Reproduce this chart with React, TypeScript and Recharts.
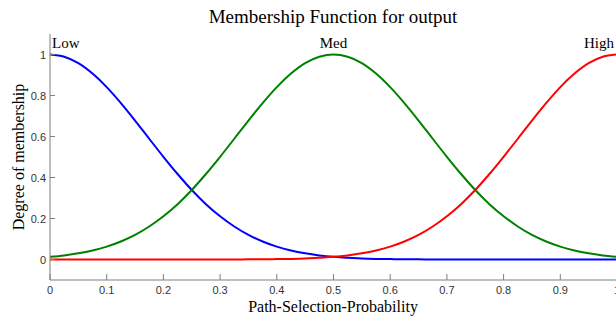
import React from "react";
import {
  LineChart,
  Line,
  XAxis,
  YAxis,
  ReferenceDot,
} from "recharts";

// sample positions along Path-Selection-Probability
const xs = [
  0, 0.025, 0.05, 0.075, 0.1, 0.125, 0.15, 0.175, 0.2, 0.225, 0.25, 0.275, 0.3, 0.325,
  0.35, 0.375, 0.4, 0.425, 0.45, 0.475, 0.5, 0.525, 0.55, 0.575, 0.6, 0.625, 0.65,
  0.675, 0.7, 0.725, 0.75, 0.775, 0.8, 0.825, 0.85, 0.875, 0.9, 0.925, 0.95, 0.975, 1,
];

const lowValues = [
  1, 0.989, 0.958, 0.907, 0.841, 0.763, 0.678, 0.589, 0.501, 0.417, 0.339, 0.27, 0.211,
  0.161, 0.12, 0.088, 0.063, 0.044, 0.03, 0.02, 0.013, 0.009, 0.005, 0.003, 0.002, 0.001,
  0.001, 0, 0, 0, 0, 0, 0, 0, 0, 0, 0, 0, 0, 0, 0,
];

const medValues = [
  0.013, 0.02, 0.03, 0.044, 0.063, 0.088, 0.12, 0.161, 0.211, 0.27, 0.339, 0.417, 0.501,
  0.589, 0.678, 0.763, 0.841, 0.907, 0.958, 0.989, 1, 0.989, 0.958, 0.907, 0.841, 0.763,
  0.678, 0.589, 0.501, 0.417, 0.339, 0.27, 0.211, 0.161, 0.12, 0.088, 0.063, 0.044, 0.03,
  0.02, 0.013,
];

const highValues = [
  0, 0, 0, 0, 0, 0, 0, 0, 0, 0, 0, 0, 0, 0, 0.001, 0.001, 0.002, 0.003, 0.005, 0.009,
  0.013, 0.02, 0.03, 0.044, 0.063, 0.088, 0.12, 0.161, 0.211, 0.27, 0.339, 0.417, 0.501,
  0.589, 0.678, 0.763, 0.841, 0.907, 0.958, 0.989, 1,
];

const xTicks = [0, 0.1, 0.2, 0.3, 0.4, 0.5, 0.6, 0.7, 0.8, 0.9, 1];
const yTicks = [0, 0.2, 0.4, 0.6, 0.8, 1];

const mfNames = ["Low", "Med", "High"];
const mfCenters = [0, 0.5, 1];
const mfAnchors = ["start", "middle", "end"];

const data = xs.map((x, i) => ({
  x,
  low: lowValues[i],
  med: medValues[i],
  high: highValues[i],
}));

const FRAME = "#7f7f7f";
const TICK_FONT = "'Liberation Sans', Arial, sans-serif";
const SERIF = "'Liberation Serif', 'Times New Roman', serif";

function BottomTick({ x, y, payload }: any) {
  return (
    <g>
      <line x1={x} x2={x} y1={y} y2={y - 6} stroke={FRAME} />
      <text x={x} y={y + 14} textAnchor="middle" fontFamily={TICK_FONT} fontSize={11} fill="#333">
        {String(payload.value)}
      </text>
    </g>
  );
}

function TopTick({ x, y }: any) {
  return <line x1={x} x2={x} y1={y} y2={y + 5} stroke={FRAME} />;
}

function LeftTick({ x, y, payload }: any) {
  return (
    <g>
      <line x1={x} x2={x + 5} y1={y} y2={y} stroke={FRAME} />
      <text x={x - 4} y={y + 4} textAnchor="end" fontFamily={TICK_FONT} fontSize={11} fill="#333">
        {String(payload.value)}
      </text>
    </g>
  );
}

function RightTick({ x, y }: any) {
  return <line x1={x} x2={x - 5} y1={y} y2={y} stroke={FRAME} />;
}

export default function App() {
  return (
    <div
      style={{
        position: "absolute",
        left: 0,
        top: 0,
        width: 616,
        height: 319,
        overflow: "hidden",
        background: "#fff",
      }}
    >
      <LineChart width={650} height={319} data={data} margin={{ top: 34, right: 33, left: 0, bottom: 0 }}>
        <XAxis
          dataKey="x"
          type="number"
          domain={[0, 1]}
          ticks={xTicks}
          height={39}
          tickSize={0}
          tickMargin={0}
          tickLine={false}
          axisLine={{ stroke: FRAME }}
          tick={<BottomTick />}
          interval={0}
        />
        <XAxis
          xAxisId="top"
          orientation="top"
          dataKey="x"
          type="number"
          domain={[0, 1]}
          ticks={xTicks}
          height={0}
          tickSize={0}
          tickMargin={0}
          tickLine={false}
          axisLine={{ stroke: FRAME }}
          tick={<TopTick />}
          interval={0}
        />
        <YAxis
          type="number"
          domain={[-0.1, 1.1]}
          ticks={yTicks}
          width={50}
          tickSize={0}
          tickMargin={0}
          tickLine={false}
          axisLine={{ stroke: FRAME }}
          tick={<LeftTick />}
          interval={0}
        />
        <YAxis
          yAxisId="right"
          orientation="right"
          type="number"
          domain={[-0.1, 1.1]}
          ticks={yTicks}
          width={0}
          tickSize={0}
          tickMargin={0}
          tickLine={false}
          axisLine={{ stroke: FRAME }}
          tick={<RightTick />}
          interval={0}
        />
        <Line dataKey="low" type="monotone" stroke="#0000ff" strokeWidth={2} dot={false} isAnimationActive={false} />
        <Line dataKey="med" type="monotone" stroke="#008000" strokeWidth={2} dot={false} isAnimationActive={false} />
        <Line dataKey="high" type="monotone" stroke="#ff0000" strokeWidth={2} dot={false} isAnimationActive={false} />
        {mfNames.map((name, i) => (
          <ReferenceDot
            key={name}
            x={mfCenters[i]}
            y={1}
            r={0}
            fill="none"
            stroke="none"
            label={(p: any) => (
              <text
                x={p.viewBox.x + (i === 0 ? 2 : i === 2 ? -3 : 0)}
                y={p.viewBox.y - 7}
                textAnchor={mfAnchors[i]}
                fontFamily={SERIF}
                fontSize={15}
                fill="#000"
              >
                {name}
              </text>
            )}
          />
        ))}
        <text x={333} y={23} textAnchor="middle" fontFamily={SERIF} fontSize={19} fill="#000">
          Membership Function for output
        </text>
        <text x={333} y={312} textAnchor="middle" fontFamily={SERIF} fontSize={16} fill="#000">
          Path-Selection-Probability
        </text>
        <text
          x={24}
          y={157}
          textAnchor="middle"
          fontFamily={SERIF}
          fontSize={16}
          fill="#000"
          transform="rotate(-90 24 157)"
        >
          Degree of membership
        </text>
      </LineChart>
    </div>
  );
}
